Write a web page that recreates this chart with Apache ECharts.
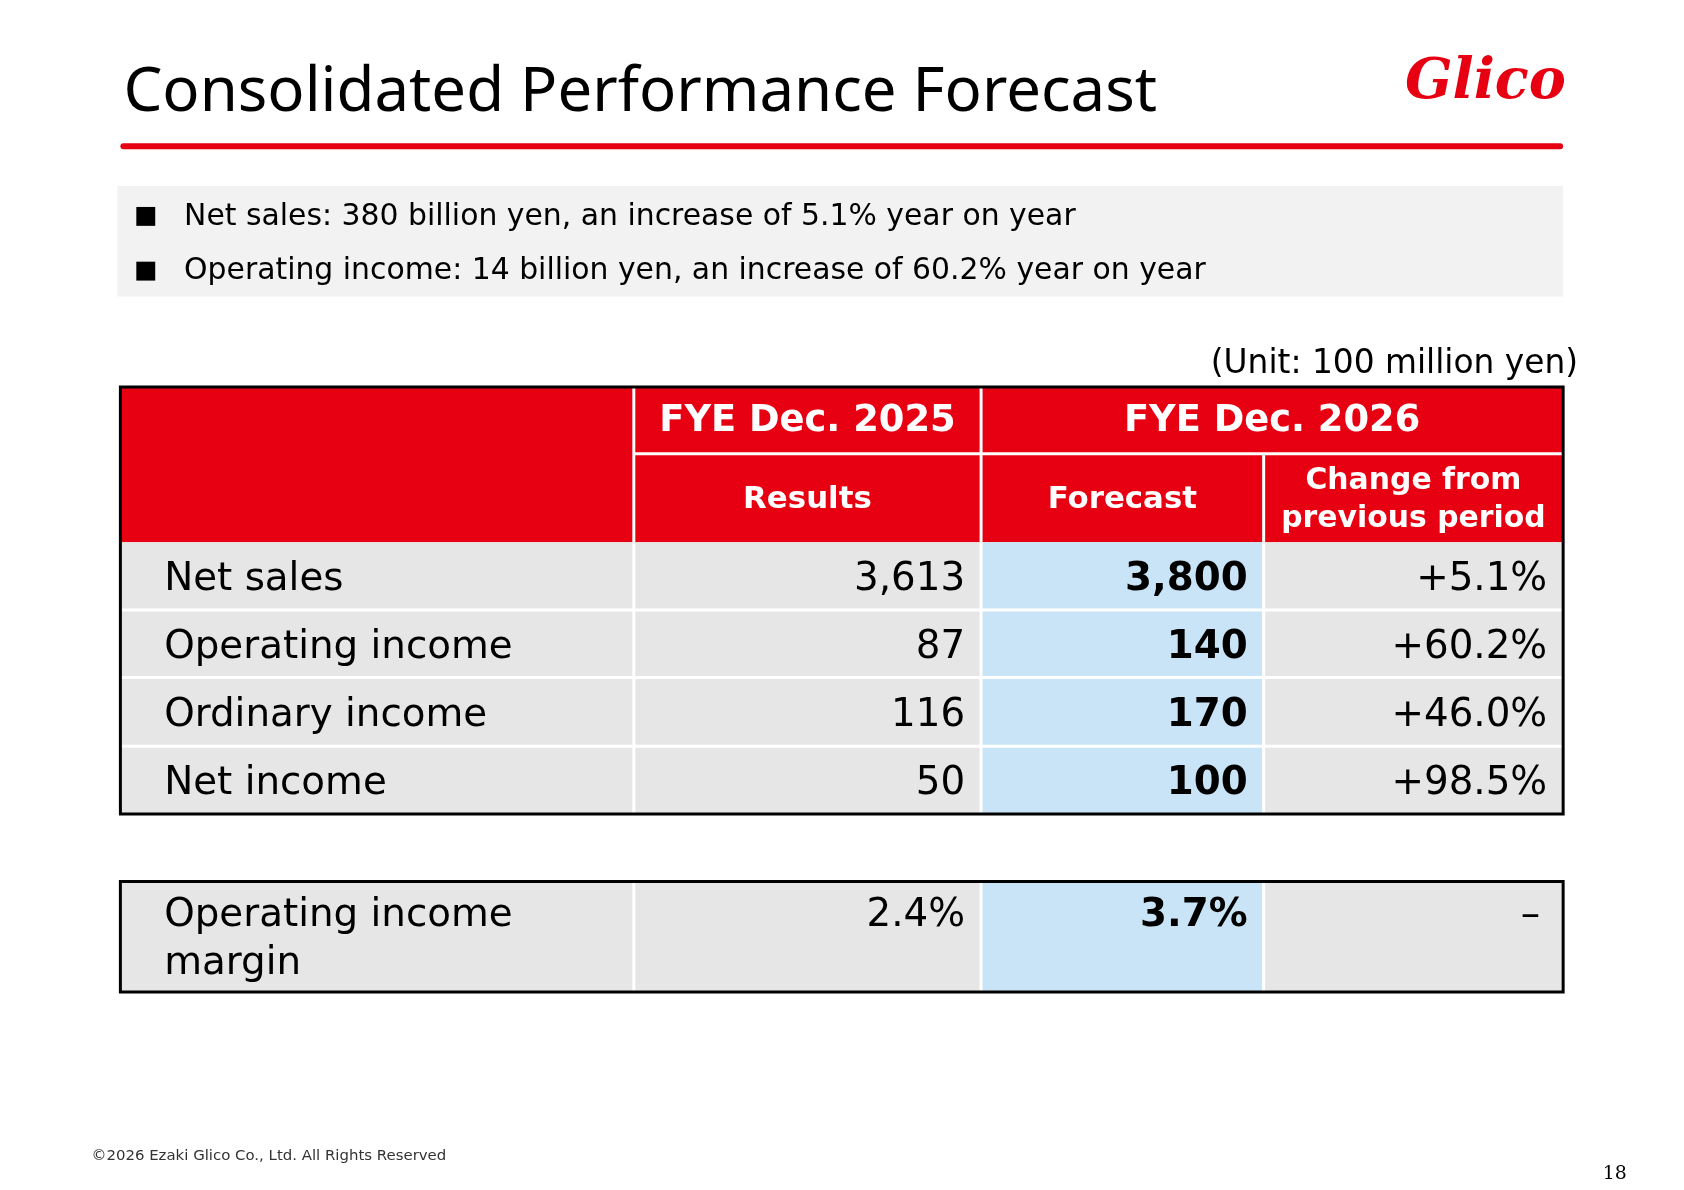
<!DOCTYPE html>
<html><head><meta charset="utf-8">
<script src="https://cdn.jsdelivr.net/npm/echarts@6/dist/echarts.min.js"></script>
<style>html,body{margin:0;padding:0;background:#fff}#c{width:1684px;height:1190px}</style>
</head><body><div id="c"></div>
<script>
const title = "Consolidated Performance Forecast";
const bullets = ["Net sales: 380 billion yen, an increase of 5.1% year on year",
                 "Operating income: 14 billion yen, an increase of 60.2% year on year"];
const unitLabel = "(Unit: 100 million yen)";
const headTop = ["", "FYE Dec. 2025", "FYE Dec. 2026"];
const headSub = ["", "Results", "Forecast", "Change from\nprevious period"];
const rowLabels = ["Net sales", "Operating income", "Ordinary income", "Net income"];
const results2025 = ["3,613", "87", "116", "50"];
const forecast2026 = ["3,800", "140", "170", "100"];
const changes = ["+5.1%", "+60.2%", "+46.0%", "+98.5%"];
const marginRow = ["Operating income\nmargin", "2.4%", "3.7%", "–"];
const footer = "©2026 Ezaki Glico Co., Ltd. All Rights Reserved";
const pageNo = "18";

const RED = "#E60012", GRAY = "#E6E6E6", BLUE = "#C8E4F6";
const F = "'Noto Sans', sans-serif";
const D = "'DejaVu Sans', sans-serif";
const cols = [121, 637, 986, 1270, 1571];
const rowY = [545, 613, 681, 750, 818];
const g = [];
const rect = (x, y, w, h, fill, z) => g.push({type:'rect', z:z||1, shape:{x, y, width:w, height:h}, style:{fill}});
const text = (x, y, t, o) => g.push({type:'text', z:5, x, y, style:Object.assign({text:t, fill:'#000', font:`32px ${F}`, textVerticalAlign:'middle'}, o||{})});

text(124, 94, title, {font:`62px ${F}`, fill:'#000'});
text(1412, 84, "Glico", {font:`italic bold 56px 'DejaVu Serif', serif`, fill:RED});
g.push({type:'rect', z:3, shape:{x:121, y:144, width:1450, height:6, r:3}, style:{fill:RED}});
rect(118, 187, 1453, 111, "#F2F2F2");
bullets.forEach((b, i) => {
  const y = [218, 273][i];
  rect(137, y - 10, 19, 19, "#000", 4);
  text(185, y, b, {font:`30px ${D}`});
});
text(1586, 366, unitLabel, {font:`33px ${D}`, textAlign:'right'});

rect(121, 389, 1450, 156, RED);
const wl = (x1, y1, x2, y2, w) => g.push({type:'line', z:4, shape:{x1, y1, x2, y2}, style:{stroke:'#fff', lineWidth:w||3}});
wl(637, 389, 637, 545); wl(986, 389, 986, 545); wl(637, 456, 1571, 456); wl(1270, 456, 1270, 545);
text((637+986)/2, 424, headTop[1], {font:`bold 37px ${D}`, fill:'#fff', textAlign:'center'});
text((986+1571)/2, 424, headTop[2], {font:`bold 37px ${D}`, fill:'#fff', textAlign:'center'});
[1,2].forEach(i => text((cols[i]+cols[i+1])/2, 503, headSub[i], {font:`bold 31px ${D}`, fill:'#fff', textAlign:'center'}));
text((1270+1571)/2, 503, headSub[3], {font:`bold 30px ${D}`, fill:'#fff', textAlign:'center', lineHeight:38});

rowLabels.forEach((lab, i) => {
  const y0 = rowY[i], y1 = rowY[i+1], cy = (y0 + y1) / 2 + 4;
  rect(121, y0, 1450, y1 - y0, GRAY);
  rect(986, y0, 284, y1 - y0, BLUE, 2);
  text(165, cy, lab, {font:`39px ${D}`});
  text(970, cy, results2025[i], {font:`39px ${D}`, textAlign:'right'});
  text(1254, cy, forecast2026[i], {font:`bold 39px ${D}`, textAlign:'right'});
  text(1555, cy, changes[i], {font:`39px ${D}`, textAlign:'right'});
  if (i > 0) wl(121, y0, 1571, y0, 3);
});
[637, 986, 1270].forEach(x => wl(x, 545, x, 818, 3));
g.push({type:'rect', z:6, shape:{x:121, y:389, width:1450, height:429}, style:{fill:'none', stroke:'#000', lineWidth:3}});

const my0 = 886, my1 = 997;
rect(121, my0, 1450, my1 - my0, GRAY);
rect(986, my0, 284, my1 - my0, BLUE, 2);
[637, 986, 1270].forEach(x => wl(x, my0, x, my1, 3));
text(165, 945, marginRow[0], {font:`39px ${D}`, lineHeight:48});
text(970, 921, marginRow[1], {font:`39px ${D}`, textAlign:'right'});
text(1254, 921, marginRow[2], {font:`bold 39px ${D}`, textAlign:'right'});
text(1548, 921, marginRow[3], {font:`39px ${D}`, textAlign:'right'});
g.push({type:'rect', z:6, shape:{x:121, y:my0, width:1450, height:my1-my0}, style:{fill:'none', stroke:'#000', lineWidth:3}});

text(92, 1162, footer, {font:`15px ${D}`, fill:'#333'});
text(1635, 1180, pageNo, {font:`19px 'DejaVu Serif', serif`, textAlign:'right'});

const chart = echarts.init(document.getElementById('c'));
chart.setOption({animation:false, graphic:{elements:[{type:'group', scaleX:0.995, scaleY:0.995, children:g}]}});
</script></body></html>
